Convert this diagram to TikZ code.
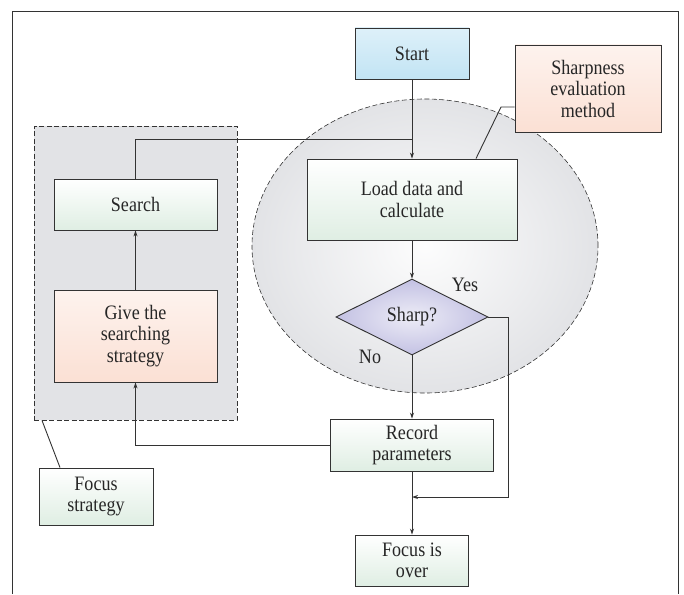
\documentclass[tikz,border=0pt]{standalone}
\usepackage{fontspec}
\setmainfont{Liberation Serif}[FakeStretch=0.88]
\usetikzlibrary{shapes.geometric,arrows.meta}

\definecolor{linegray}{HTML}{333333}
\definecolor{boxgreen}{HTML}{DFEEE3}
\definecolor{boxpeach}{HTML}{FBE0D4}
\definecolor{boxblue}{HTML}{C2E4F4}
\definecolor{loopgray}{HTML}{E2E3E6}
\definecolor{sharplilac}{HTML}{C3C1E3}

\tikzset{
  box/.style={draw=linegray, line width=0.9pt, inner sep=0pt, align=center,
    text=black!85, font=\fontsize{20.5}{21.5}\selectfont},
  greenbox/.style={box, top color=white, bottom color=boxgreen},
  peachbox/.style={box, top color=white!60!boxpeach, bottom color=boxpeach},
  bluebox/.style={box, top color=boxblue!55!white, bottom color=boxblue},
  label/.style={inner sep=0pt, text=black!85, font=\fontsize{20.5}{21.5}\selectfont},
  >={Stealth[length=6pt,width=4pt]}
}

\begin{document}
\begin{tikzpicture}[x=1pt,y=-1pt,line width=0.9pt,draw=linegray]
      \useasboundingbox (0,0) rectangle (684,594);

      % outer frame, open at the bottom
      \draw[linegray] (12,594) -- (12,11) -- (678,11) -- (678,594);

      % the two groups
      \node[draw=linegray, dashed, dash pattern=on 5pt off 2.5pt, fill=loopgray,
        minimum width=203pt, minimum height=294pt, inner sep=0pt] (strategy) at (135.5,273) {};
      \node[ellipse, draw=linegray, dash pattern=on 5pt off 2.5pt, line width=0.6pt,
        inner color=white!92!loopgray, outer color=loopgray,
        minimum width=346pt, minimum height=294pt, inner sep=0pt] (evalloop) at (425,246) {};

      % boxes
      \node[bluebox, minimum width=114pt, minimum height=51pt] (start) at (412,53.5) {Start};
      \node[peachbox, minimum width=146pt, minimum height=87pt] (method) at (588,88.5)
        {Sharpness\\evaluation\\method};
      \node[greenbox, minimum width=210pt, minimum height=81pt] (load) at (412,199.5)
        {Load data and\\calculate};
      \node[greenbox, minimum width=163pt, minimum height=51pt] (search) at (135.5,204.5) {Search};
      \node[peachbox, minimum width=163pt, minimum height=92pt] (give) at (135.5,336)
        {Give the\\searching\\strategy};
      \node[diamond, draw=linegray, inner sep=0pt, minimum width=152pt, minimum height=76pt,
        inner color=white!70!sharplilac, outer color=sharplilac, text=black!85,
        font=\fontsize{20.5}{21.5}\selectfont] (sharp) at (412,317) {Sharp?};
      \node[greenbox, minimum width=163pt, minimum height=52pt] (record) at (412,445)
        {Record\\parameters};
      \node[greenbox, minimum width=113pt, minimum height=51pt] (over) at (412,560.5)
        {Focus is\\over};
      \node[greenbox, minimum width=114pt, minimum height=57pt] (focus) at (96,496.5)
        {Focus\\strategy};

      \node[label] (yes) at (465,285) {Yes};
      \node[label] (no) at (370,357) {No};

      \coordinate (join) at (412,139);
      \coordinate (merge) at (412,497);

      % connectors
      \draw[->] (start) -- (load);
      \draw (search) |- (join);
      \draw[->] (load) -- (sharp);
      \draw[->] (sharp) -- (record);
      \draw[->] (sharp.east) -- (508,317) -- (508,497) -- (merge);
      \draw[->] (record.west) -| (give.south);
      \draw[->] (give) -- (search);
      \draw[->] (record) -- (over);
      \draw (method.west |- 0,107) -- (501,107) -- (load.north -| 476,0);
      \draw (strategy.south -| 42,0) -- (focus.north -| 60,0);
    \end{tikzpicture}
\end{document}
